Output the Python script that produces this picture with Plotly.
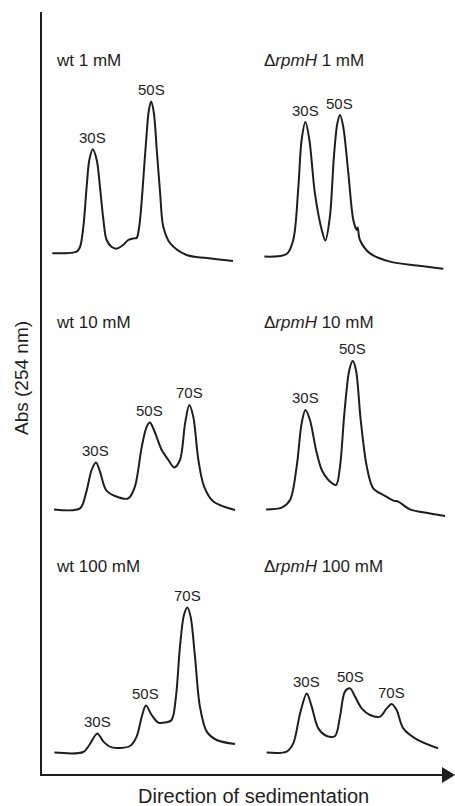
import plotly.graph_objects as go

# ---------------- data (position along gradient, 0-100; absorbance, a.u.) ----------------
wt_1mM_pos = [1.2, 14.0, 15.8, 17.6, 19.3, 20.7, 22.5, 24.6, 26.3, 28.0, 29.8, 32.5, 35.1, 38.5, 41.2, 44.0, 45.6, 47.0, 48.3, 49.6, 50.9, 51.9, 53.2, 54.6, 56.2, 58.0, 59.6, 63.2, 71.9, 82.5, 96.3]
wt_1mM_abs = [0.084, 0.092, 0.115, 0.22, 0.417, 0.55, 0.604, 0.55, 0.415, 0.26, 0.15, 0.115, 0.107, 0.125, 0.15, 0.158, 0.16, 0.22, 0.35, 0.52, 0.685, 0.79, 0.842, 0.79, 0.6, 0.38, 0.217, 0.134, 0.075, 0.06, 0.045]
wt_1mM_peaks = ["30S", "50S"]
wt_1mM_peak_pos = [22.5, 53.2]

rpmH_1mM_pos = [2.3, 14.0, 17.5, 20.2, 21.9, 23.9, 26.0, 28.9, 32.5, 34.4, 36.8, 38.9, 40.7, 42.1, 43.8, 46.5, 49.1, 50.9, 51.4, 52.6, 57.9, 68.4, 82.5, 96.5]
rpmH_1mM_abs = [0.067, 0.08, 0.15, 0.417, 0.65, 0.74, 0.65, 0.383, 0.2, 0.147, 0.267, 0.567, 0.733, 0.775, 0.717, 0.483, 0.25, 0.2, 0.212, 0.15, 0.083, 0.042, 0.022, 0.006]
rpmH_1mM_peaks = ["30S", "50S"]
rpmH_1mM_peak_pos = [23.9, 42.1]

wt_10mM_pos = [2.1, 15.8, 18.9, 21.9, 24.2, 26.3, 29.5, 34.2, 41.2, 44.7, 48.3, 50.9, 52.6, 54.7, 58.8, 62.3, 65.3, 68.4, 71.1, 73.3, 75.4, 78.1, 81.1, 86.0, 97.4]
wt_10mM_abs = [0.053, 0.058, 0.133, 0.25, 0.288, 0.242, 0.15, 0.12, 0.108, 0.167, 0.367, 0.467, 0.487, 0.45, 0.35, 0.3, 0.263, 0.3, 0.483, 0.575, 0.517, 0.3, 0.167, 0.092, 0.05]
wt_10mM_peaks = ["30S", "50S", "70S"]
wt_10mM_peak_pos = [24.2, 52.6, 73.3]

rpmH_10mM_pos = [3.2, 11.4, 15.8, 19.3, 21.9, 23.9, 26.3, 29.5, 32.5, 36.0, 40.0, 42.1, 44.4, 47.0, 48.8, 50.5, 53.0, 56.2, 59.6, 64.9, 70.2, 72.8, 78.9, 89.5, 97.4]
rpmH_10mM_abs = [0.053, 0.062, 0.1, 0.267, 0.483, 0.55, 0.5, 0.35, 0.25, 0.2, 0.175, 0.267, 0.533, 0.75, 0.795, 0.75, 0.5, 0.267, 0.158, 0.125, 0.097, 0.092, 0.053, 0.033, 0.02]
rpmH_10mM_peaks = ["30S", "50S"]
rpmH_10mM_peak_pos = [23.9, 48.8]

wt_100mM_pos = [2.3, 17.5, 20.7, 24.9, 28.1, 32.5, 42.1, 45.6, 48.3, 50.5, 53.5, 57.0, 60.5, 64.0, 66.3, 68.4, 70.5, 72.3, 74.0, 76.3, 78.9, 82.5, 87.7, 97.4]
wt_100mM_abs = [0.062, 0.065, 0.1, 0.158, 0.117, 0.088, 0.095, 0.142, 0.242, 0.297, 0.25, 0.212, 0.212, 0.225, 0.342, 0.592, 0.75, 0.788, 0.742, 0.542, 0.292, 0.167, 0.125, 0.105]
wt_100mM_peaks = ["30S", "50S", "70S"]
wt_100mM_peak_pos = [24.9, 50.5, 72.3]

rpmH_100mM_pos = [3.5, 14.0, 17.5, 21.1, 24.6, 27.2, 30.7, 35.1, 39.5, 42.1, 44.7, 47.4, 50.0, 53.5, 57.9, 63.2, 66.7, 69.3, 71.9, 75.4, 82.5, 93.8]
rpmH_100mM_abs = [0.062, 0.067, 0.108, 0.258, 0.358, 0.292, 0.183, 0.145, 0.145, 0.242, 0.367, 0.383, 0.342, 0.283, 0.25, 0.242, 0.283, 0.305, 0.275, 0.183, 0.128, 0.083]
rpmH_100mM_peaks = ["30S", "50S", "70S"]
rpmH_100mM_peak_pos = [24.6, 47.4, 69.3]

panel_titles = ["wt 1 mM", "Δ<i>rpmH</i> 1 mM",
                "wt 10 mM", "Δ<i>rpmH</i> 10 mM",
                "wt 100 mM", "Δ<i>rpmH</i> 100 mM"]
x_title = "Direction of sedimentation"
y_title = "Abs (254 nm)"

panels = [
    (wt_1mM_pos, wt_1mM_abs, wt_1mM_peaks, wt_1mM_peak_pos),
    (rpmH_1mM_pos, rpmH_1mM_abs, rpmH_1mM_peaks, rpmH_1mM_peak_pos),
    (wt_10mM_pos, wt_10mM_abs, wt_10mM_peaks, wt_10mM_peak_pos),
    (rpmH_10mM_pos, rpmH_10mM_abs, rpmH_10mM_peaks, rpmH_10mM_peak_pos),
    (wt_100mM_pos, wt_100mM_abs, wt_100mM_peaks, wt_100mM_peak_pos),
    (rpmH_100mM_pos, rpmH_100mM_abs, rpmH_100mM_peaks, rpmH_100mM_peak_pos),
]

# ---------------- layout geometry ----------------
W, H = 455, 806
FONT = "Liberation Sans, Arial, Helvetica, sans-serif"
INK = "#1e1e1e"


def px(x):
    return x / W


def py(y):
    return 1 - y / H


col_px = [(50, 240), (260, 450)]
row_px = [(40, 280), (290, 530), (535, 775)]
title_x_px = [54, 262]
title_y_px = [60, 322, 566]

fig = go.Figure()
layout_axes = {}
annotations = []

for i, (pos, ab, names, ppos) in enumerate(panels):
    r, c = divmod(i, 2)
    n = i + 1
    xa = "x" if n == 1 else f"x{n}"
    ya = "y" if n == 1 else f"y{n}"
    fig.add_trace(go.Scatter(
        x=pos, y=ab, mode="lines", xaxis=xa, yaxis=ya,
        line=dict(color=INK, width=2, shape="spline", smoothing=0.9),
        hoverinfo="skip", showlegend=False))
    xkey = "xaxis" if n == 1 else f"xaxis{n}"
    ykey = "yaxis" if n == 1 else f"yaxis{n}"
    x0, x1 = col_px[c]
    y0, y1 = row_px[r]
    layout_axes[xkey] = dict(domain=[px(x0), px(x1)], range=[0, 100], visible=False,
                             anchor=ya, fixedrange=True)
    layout_axes[ykey] = dict(domain=[py(y1), py(y0)], range=[-0.05, 1.15], visible=False,
                             anchor=xa, fixedrange=True)
    for name, p in zip(names, ppos):
        yv = ab[pos.index(p)]
        annotations.append(dict(
            x=p, y=yv, xref=xa, yref=ya, text=name, showarrow=False,
            xanchor="center", yanchor="middle", yshift=12,
            font=dict(family=FONT, size=15, color=INK)))
    annotations.append(dict(
        x=px(title_x_px[c]), y=py(title_y_px[r]), xref="paper", yref="paper",
        text=panel_titles[i], showarrow=False, xanchor="left", yanchor="middle",
        font=dict(family=FONT, size=17, color=INK)))

annotations.append(dict(
    x=px(253), y=py(796), xref="paper", yref="paper", text=x_title,
    showarrow=False, xanchor="center", yanchor="middle",
    font=dict(family=FONT, size=20, color=INK)))
annotations.append(dict(
    x=px(21), y=py(378), xref="paper", yref="paper", text=y_title,
    showarrow=False, xanchor="center", yanchor="middle", textangle=-90,
    font=dict(family=FONT, size=19, color=INK)))

shapes = [
    dict(type="line", xref="paper", yref="paper", x0=px(41), x1=px(41),
         y0=py(12), y1=py(776), line=dict(color=INK, width=2)),
    dict(type="line", xref="paper", yref="paper", x0=px(40), x1=px(446),
         y0=py(775), y1=py(775), line=dict(color=INK, width=2)),
    dict(type="path", xref="paper", yref="paper",
         path=f"M {px(442)} {py(767)} L {px(455)} {py(775)} L {px(442)} {py(783)} Z",
         fillcolor=INK, line=dict(color=INK, width=0)),
]

fig.update_layout(
    width=W, height=H, margin=dict(l=0, r=0, t=0, b=0),
    paper_bgcolor="white", plot_bgcolor="rgba(0,0,0,0)",
    annotations=annotations, shapes=shapes, showlegend=False,
    **layout_axes)

fig.write_html("out.html", config={"displayModeBar": False, "staticPlot": True},
               post_script="document.body.style.margin='0';document.body.style.overflow='hidden';")
